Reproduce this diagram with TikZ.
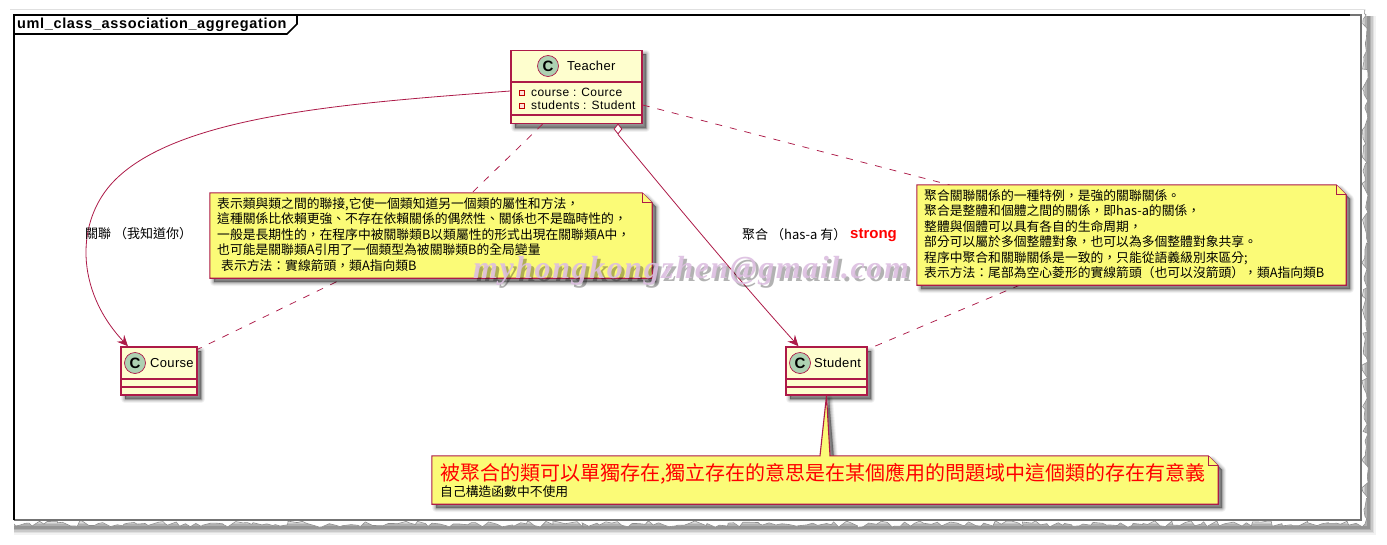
\documentclass[tikz,border=0pt]{standalone}
\usepackage{fontspec}
\setmainfont{Liberation Sans}
\newfontfamily\cjk{Noto Sans CJK TC}
\newfontfamily\wmfont[LetterSpace=5]{Liberation Serif}
\newfontfamily\titlef[LetterSpace=4.4]{Liberation Sans}
\newfontfamily\attrf[LetterSpace=3.5]{Liberation Sans}
\newfontfamily\namef[LetterSpace=2.5]{Liberation Sans}
\usetikzlibrary{shapes.geometric,arrows.meta,decorations.pathmorphing}
\definecolor{umlred}{HTML}{AD1A48}
\definecolor{classfill}{HTML}{FEFECE}
\definecolor{notefill}{HTML}{FBFB77}
\definecolor{spot}{HTML}{ADD1B2}
\definecolor{wmcol}{HTML}{DCBEE0}
\newcommand{\fc}{\char"FF0C\relax}
\newcommand{\fcol}{\char"FF1A\relax}
\newcommand{\flp}{\char"FF08\relax}
\newcommand{\frp}{\char"FF09\relax}
\newcommand{\softshadow}[1]{%
  \foreach \w/\o in {8/.05,6/.07,4/.09,2/.11,0.4/.13}{%
    \path[fill=black,draw=black,line width=\w pt,line join=round,opacity=\o,shift={(4,4)}] #1;}}
\newcommand{\wmtext}{myhongkongzhen@gmail.com}
\newcommand{\wmlayer}[3]{\rlap{\kern#1pt\raisebox{-#1pt}{\pgfsetfillopacity{#3}\color{#2}\wmtext}}}
\tikzset{
  x=1pt,y=-1pt,
  classbox/.style={draw=umlred,fill=classfill,line width=1.5pt,rectangle,inner sep=0pt},
  divider/.style={draw=umlred,line width=1.4pt},
  spotc/.style={circle,draw=umlred,fill=spot,line width=.7pt,minimum size=21pt,inner sep=0pt,font=\fontsize{15}{15}\selectfont\bfseries},
  ctitle/.style={inner sep=0pt,anchor=west,font=\namef\fontsize{13}{15}\selectfont},
  attr/.style={inner sep=0pt,anchor=west,font=\attrf\fontsize{12}{13}\selectfont},
  vis/.style={rectangle,draw=red!75!black,fill=classfill!60!red!30,line width=.7pt,minimum size=5.5pt,inner sep=0pt},
  notehold/.style={rectangle,inner sep=0pt},
  notetxt/.style={inner sep=0pt,anchor=north west,align=left,font=\cjk\fontsize{12.8}{15.5}\selectfont},
  noteline/.style={draw=umlred,fill=notefill,line width=1.1pt,line join=miter},
  edgeline/.style={draw=umlred,line width=.8pt},
  dashline/.style={draw=umlred,line width=.75pt,dash pattern=on 7pt off 8pt},
  arrowtip/.style={-{Stealth[length=11pt,width=10pt,inset=4pt]}},
  lbl/.style={inner sep=0pt,anchor=west,font=\cjk\fontsize{13}{15}\selectfont},
  jag/.style={decorate,decoration={random steps,segment length=5pt,amplitude=3.2pt}},
  wmstyle/.style={inner sep=0pt,anchor=center,font=\wmfont\fontsize{32}{33}\selectfont\itshape\bfseries},
}
\begin{document}
\begin{tikzpicture}
\useasboundingbox (0,0) rectangle (1387,544);
\fill[white] (0,0) rectangle (1387,544);
\pgfmathsetseed{7}
% torn page edge
\foreach \w/\o in {15/.05,12/.07,9/.10,6/.12,3/.15}{
  \draw[black,opacity=\o,line width=\w pt] (1368,16) -- (1368,527) -- (12,527);
}
\path[fill=white,draw=black!45,line width=.6pt,jag] (6,6) -- (1365,6) -- (1365,524) -- (6,524) -- cycle;
\fill[white] (0,0) rectangle (1387,9);
\fill[white] (0,0) rectangle (14,544);
\draw[black!12,line width=1pt] (10,9) -- (1365,9);
\draw[black!55,line width=1.4pt] (1350,15) -- (1361,15) -- (1361,520) -- (14,520);
% frame
\draw[black,line width=1.8pt] (14,520) -- (14,15) -- (1350,15);
\draw[black,line width=1.6pt] (14,34) -- (287,34) -- (297,24) -- (297,15);
\node[inner sep=0pt,anchor=west,font=\titlef\fontsize{14.5}{15}\selectfont\bfseries] (frametitle) at (17,24.5) {uml\_class\_association\_aggregation};

% classes
\softshadow{(511,50) rectangle (642,124)}
\softshadow{(121,347) rectangle (197,395)}
\softshadow{(786,347) rectangle (867,395)}
\node[classbox,minimum width=131pt,minimum height=73pt] (teacher) at (576.5,87) {};
\node[classbox,minimum width=76pt,minimum height=48pt] (course) at (159,371) {};
\node[classbox,minimum width=81pt,minimum height=48pt] (student) at (826.5,371) {};
\draw[divider] (teacher.west |- 0,82) -- (teacher.east |- 0,82);
\draw[divider] (teacher.west |- 0,115) -- (teacher.east |- 0,115);
\draw[divider] (course.west |- 0,379) -- (course.east |- 0,379);
\draw[divider] (course.west |- 0,387) -- (course.east |- 0,387);
\draw[divider] (student.west |- 0,379) -- (student.east |- 0,379);
\draw[divider] (student.west |- 0,387) -- (student.east |- 0,387);
\node[spotc] (tc) at (548,66) {C};
\node[spotc] (cc) at (135,363) {C};
\node[spotc] (sc) at (800,363) {C};
\node[ctitle] (tt) at (567,65.5) {Teacher};
\node[ctitle] (ct) at (150,363) {Course};
\node[ctitle] (st) at (814,363) {Student};
\node[vis] (v1) at (522,93) {};
\node[vis] (v2) at (522,106) {};
\node[attr] (a1) at (531,92) {course : Cource};
\node[attr] (a2) at (531,105) {students : Student};

% note holders
\node[notehold,minimum width=442pt,minimum height=85pt] (n1) at (431,235.5) {};
\node[notehold,minimum width=429pt,minimum height=100pt] (n2) at (1131.5,235) {};
\node[notehold,minimum width=786pt,minimum height=48pt] (n3) at (825,480) {};

% connectors
\draw[edgeline,arrowtip] (teacher.west |- 0,91) .. controls (350,103) and (180,115) .. (115,180) .. controls (75,220) and (75,290) .. ([xshift=-31pt]course.north);
\node[diamond,draw=umlred,fill=white,line width=.8pt,minimum width=8pt,minimum height=10pt,inner sep=0pt] (dia) at (618,129) {};
\draw[edgeline,arrowtip] (dia.south) .. controls (660,185) and (730,270) .. ([xshift=-28pt]student.north);
\draw[dashline] ([xshift=-34pt]teacher.south) -- ([xshift=41pt]n1.north);
\draw[dashline] ([yshift=3pt]n1.south -| 350,0) -- ([yshift=-3pt]course.north east);
\draw[dashline] (teacher.east |- 0,105) -- (950,185);
\draw[dashline] (1020,285) -- ([yshift=-3pt]student.north east);

% notes
\softshadow{(210,193) -- (642,193) -- (652,203) -- (652,278) -- (210,278) -- cycle}
\softshadow{(917,185) -- (1336,185) -- (1346,195) -- (1346,285) -- (917,285) -- cycle}
\softshadow{(432,456) -- (820,456) -- (825,395) -- (830,456) -- (1208,456) -- (1218,466) -- (1218,504) -- (432,504) -- cycle}
\path[noteline] (n1.north west) -- ([xshift=-10pt]n1.north east) -- ([yshift=-10pt]n1.north east) -- (n1.south east) -- (n1.south west) -- cycle;
\path[noteline] ([xshift=-10pt]n1.north east) -- ([xshift=-10pt,yshift=-10pt]n1.north east) -- ([yshift=-10pt]n1.north east);
\path[noteline] (n2.north west) -- ([xshift=-10pt]n2.north east) -- ([yshift=-10pt]n2.north east) -- (n2.south east) -- (n2.south west) -- cycle;
\path[noteline] ([xshift=-10pt]n2.north east) -- ([xshift=-10pt,yshift=-10pt]n2.north east) -- ([yshift=-10pt]n2.north east);
\path[noteline] (n3.north west) -- ([xshift=-5pt]n3.north) -- (student.south) -- ([xshift=5pt]n3.north) -- ([xshift=-10pt]n3.north east) -- ([yshift=-10pt]n3.north east) -- (n3.south east) -- (n3.south west) -- cycle;
\path[noteline] ([xshift=-10pt]n3.north east) -- ([xshift=-10pt,yshift=-10pt]n3.north east) -- ([yshift=-10pt]n3.north east);

\node[notetxt] (n1t) at (217,197) {表示類與類之間的聯接,它使一個類知道另一個類的屬性和方法\fc\\這種關係比依賴更強、不存在依賴關係的偶然性、關係也不是臨時性的\fc\\一般是長期性的\fc 在程序中被關聯類B以類屬性的形式出現在關聯類A中\fc\\也可能是關聯類A引用了一個類型為被關聯類B的全局變量\\\hspace{4pt}表示方法\fcol 實線箭頭\fc 類A指向類B};
\node[notetxt] (n2t) at (924,189) {聚合關聯關係的一種特例\fc 是強的關聯關係。\\聚合是整體和個體之間的關係\fc 即has-a的關係\fc\\整體與個體可以具有各自的生命周期\fc\\部分可以屬於多個整體對象\fc 也可以為多個整體對象共享。\\程序中聚合和關聯關係是一致的\fc 只能從語義級別來區分;\\表示方法\fcol 尾部為空心菱形的實線箭頭\flp 也可以沒箭頭\frp\fc 類A指向類B};
\node[inner sep=0pt,anchor=west,text=red,font=\cjk\fontsize{20}{22}\selectfont] (n3a) at (440,473.5) {被聚合的類可以單獨存在,獨立存在的意思是在某個應用的問題域中這個類的存在有意義};
\node[inner sep=0pt,anchor=west,font=\cjk\fontsize{12.8}{15}\selectfont] (n3b) at (440,492) {自己構造函數中不使用};

% edge labels
\node[lbl] (l1) at (85,234) {關聯 \flp 我知道你\frp};
\node[lbl] (l2) at (742,235) {聚合 \flp has-a 有\frp};
\node[inner sep=0pt,anchor=west,text=red,font=\fontsize{15}{15}\selectfont\bfseries] (l3) at (850,235.5) {strong};

% watermark (one node: shadow layer under the lettering)
\node[wmstyle] (wm) at (691,272) {\wmlayer{3}{black}{.3}\pgfsetfillopacity{.9}\color{wmcol}\wmtext};
\end{tikzpicture}
\end{document}
